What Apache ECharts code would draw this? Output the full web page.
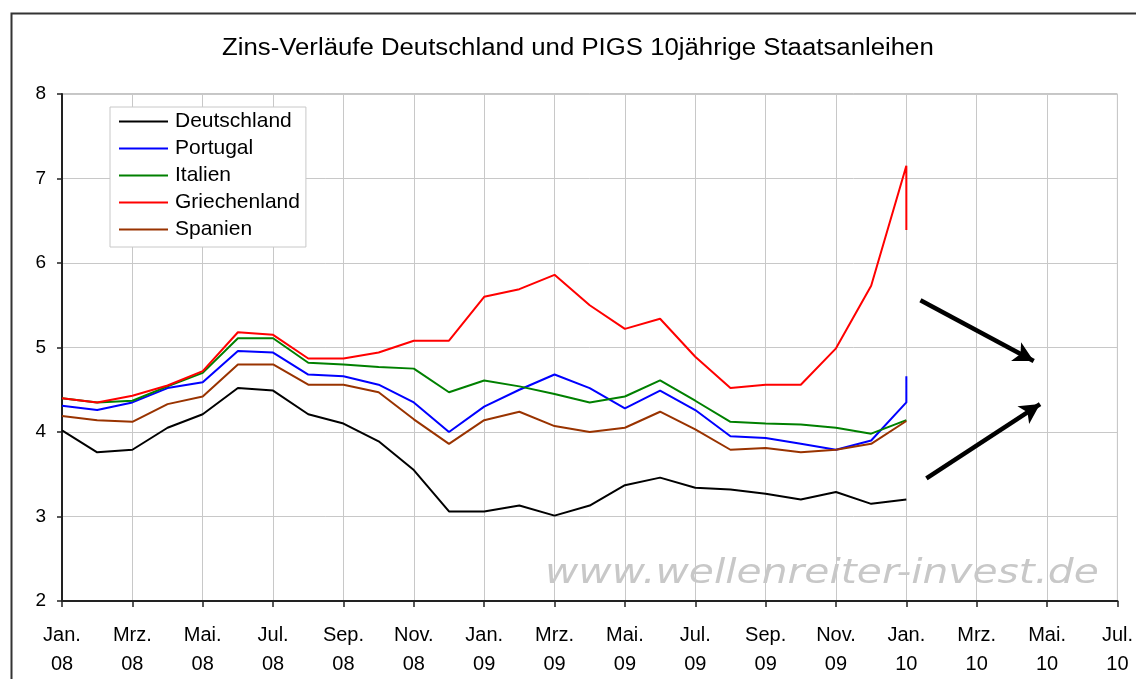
<!DOCTYPE html>
<html>
<head>
<meta charset="utf-8">
<script src="https://cdn.jsdelivr.net/npm/echarts@6/dist/echarts.min.js"></script>
<style>
  html, body { margin: 0; padding: 0; background: #fff; }
  #chart { width: 1136px; height: 679px; }
</style>
</head>
<body>
<div id="chart"></div>
<script>
// Monatsindex: 0 = Jan. 08 ... 24 = Jan. 10 (letzter Wert doppelt fuer den Sprung im Jan. 10)
const monate = [0, 1, 2, 3, 4, 5, 6, 7, 8, 9, 10, 11, 12, 13, 14, 15, 16, 17, 18, 19, 20, 21, 22, 23, 24, 24];

const tickLabels = [
  "Jan.\n08", "Mrz.\n08", "Mai.\n08", "Jul.\n08", "Sep.\n08", "Nov.\n08",
  "Jan.\n09", "Mrz.\n09", "Mai.\n09", "Jul.\n09", "Sep.\n09", "Nov.\n09",
  "Jan.\n10", "Mrz.\n10", "Mai.\n10", "Jul.\n10"
];

const deutschland = [4.02, 3.76, 3.79, 4.05, 4.21, 4.52, 4.49, 4.21, 4.10, 3.89, 3.55, 3.06, 3.06,
  3.13, 3.01, 3.13, 3.37, 3.46, 3.34, 3.32, 3.27, 3.20, 3.29, 3.15, 3.20];
const portugal = [4.31, 4.26, 4.35, 4.52, 4.59, 4.96, 4.94, 4.68, 4.66, 4.56, 4.35, 4.00, 4.30,
  4.50, 4.68, 4.52, 4.28, 4.49, 4.26, 3.95, 3.93, 3.86, 3.79, 3.90, 4.35, 4.66];
const italien = [4.40, 4.35, 4.37, 4.54, 4.70, 5.11, 5.11, 4.82, 4.80, 4.77, 4.75, 4.47, 4.61,
  4.54, 4.45, 4.35, 4.42, 4.61, 4.37, 4.12, 4.10, 4.09, 4.05, 3.98, 4.14];
const griechenland = [4.40, 4.35, 4.43, 4.55, 4.72, 5.18, 5.15, 4.87, 4.87, 4.94, 5.08, 5.08, 5.60,
  5.69, 5.86, 5.50, 5.22, 5.34, 4.89, 4.52, 4.56, 4.56, 4.99, 5.73, 7.15, 6.39];
const spanien = [4.19, 4.14, 4.12, 4.33, 4.42, 4.80, 4.80, 4.56, 4.56, 4.47, 4.15, 3.86, 4.14,
  4.24, 4.07, 4.00, 4.05, 4.24, 4.03, 3.79, 3.81, 3.76, 3.79, 3.86, 4.13];

// Pfeile (Start / Spitze) in Achsenkoordinaten
const pfeile = [
  [[24.4, 5.56], [27.62, 4.84]],
  [[24.57, 3.45], [27.8, 4.33]]
];

const toPairs = (werte) => werte.map((v, i) => [monate[i], v]);

const myChart = echarts.init(document.getElementById("chart"), null, { renderer: "canvas" });

const linie = (name, farbe, werte, extra) => Object.assign({
  name: name,
  type: "line",
  data: toPairs(werte),
  symbol: "none",
  color: farbe,
  lineStyle: { color: farbe, width: 2 },
  animation: false,
  z: 3
}, extra || {});

const option = {
  backgroundColor: "#fff",
  animation: false,
  legend: {
    orient: "vertical",
    left: 110,
    top: 107,
    padding: [4, 6, 7, 9],
    icon: "rect",
    itemWidth: 49,
    itemHeight: 2,
    itemGap: 6,
    backgroundColor: "#fff",
    borderColor: "#c8c8c8",
    borderWidth: 1,
    data: ["Deutschland", "Portugal", "Italien", "Griechenland", "Spanien"],
    textStyle: { fontFamily: "Liberation Sans", fontSize: 21, color: "#000", lineHeight: 21, padding: [0, 0, 0, 2] },
    z: 5
  },
  grid: {
    left: 62,
    top: 94,
    right: 14,
    bottom: 75,
    show: true,
    borderColor: "#8c8c8c",
    borderWidth: 1
  },
  xAxis: {
    type: "value",
    min: 0,
    max: 30,
    interval: 2,
    axisLine: { show: true, onZero: false, lineStyle: { color: "#222", width: 2 } },
    axisTick: { show: true, length: 6, lineStyle: { color: "#222", width: 1.5 } },
    axisLabel: {
      fontFamily: "Liberation Sans",
      fontSize: 20,
      color: "#000",
      lineHeight: 29,
      margin: 20,
      formatter: (v) => tickLabels[v / 2]
    },
    splitLine: { show: true, lineStyle: { color: "#c8c8c8", width: 1 } }
  },
  yAxis: {
    type: "value",
    min: 2,
    max: 8,
    interval: 1,
    axisLine: { show: true, lineStyle: { color: "#222", width: 2 } },
    axisTick: { show: true, length: 5, lineStyle: { color: "#222", width: 1.5 } },
    axisLabel: { fontFamily: "Liberation Sans", fontSize: 19, color: "#000", margin: 16 },
    splitLine: { show: true, lineStyle: { color: "#c8c8c8", width: 1 } }
  },
  graphic: [
    {
      type: "rect",
      left: 9,
      top: 11,
      shape: { width: 1200, height: 800 },
      style: { fill: null, stroke: "#333", lineWidth: 2 },
      silent: true,
      z: 0
    },
    {
      type: "text",
      left: 222,
      top: 37,
      scaleX: 1.12,
      style: {
        text: "Zins-Verläufe Deutschland und PIGS 10jährige Staatsanleihen",
        font: "23px 'Liberation Sans'",
        fill: "#000"
      },
      silent: true,
      z: 2
    },
    {
      type: "text",
      left: 545,
      top: 557,
      scaleX: 1.2,
      style: {
        text: "www.wellenreiter-invest.de",
        font: "italic 34px 'DejaVu Sans'",
        fill: "#c8c8c8"
      },
      silent: true,
      z: 1
    }
  ],
  series: [
    linie("Deutschland", "#000000", deutschland, {
      markLine: {
        silent: true,
        symbol: ["none", "arrow"],
        symbolSize: [16, 20],
        label: { show: false },
        lineStyle: { color: "#000", width: 4.5, type: "solid" },
        animation: false,
        data: pfeile.map((p) => [{ coord: p[0] }, { coord: p[1] }])
      }
    }),
    linie("Portugal", "#0000ff", portugal),
    linie("Italien", "#008000", italien),
    linie("Griechenland", "#ff0000", griechenland),
    linie("Spanien", "#993300", spanien)
  ]
};

myChart.setOption(option);

window.addEventListener("resize", () => myChart.resize());
</script>
</body>
</html>
